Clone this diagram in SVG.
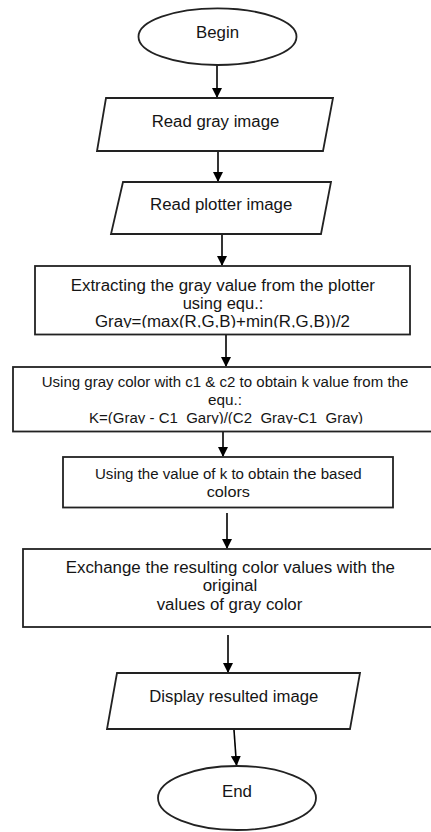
<svg xmlns="http://www.w3.org/2000/svg" width="431" height="832" viewBox="0 0 431 832">
<style>
.sh{fill:#fff;stroke:#222;stroke-width:1.8}
.t{font-family:"Liberation Sans",Arial,sans-serif;fill:#151515;font-size:16px}
.s{font-size:14px}
.c{stroke:#000;stroke-width:1.6;fill:none}
</style>
<defs>
<marker id="ah" markerWidth="10" markerHeight="10" refX="9" refY="5" orient="auto" markerUnits="userSpaceOnUse">
<path d="M0,0 L10,5 L0,10 Z" fill="#000"/>
</marker>
<clipPath id="clip3"><rect x="0" y="260" width="431" height="67.8"/></clipPath>
<clipPath id="clip4"><rect x="0" y="360" width="431" height="63.8"/></clipPath>
</defs>
<rect width="431" height="832" fill="#fff"/>
<g id="connectors">
<line class="c" x1="217" y1="65" x2="217" y2="97" marker-end="url(#ah)"/>
<line class="c" x1="218" y1="151" x2="218" y2="181" marker-end="url(#ah)"/>
<line class="c" x1="222" y1="234" x2="222" y2="265" marker-end="url(#ah)"/>
<line class="c" x1="226" y1="335" x2="226" y2="366" marker-end="url(#ah)"/>
<line class="c" x1="223" y1="432" x2="223" y2="456" marker-end="url(#ah)"/>
<line class="c" x1="227" y1="513" x2="227" y2="548" marker-end="url(#ah)"/>
<line class="c" x1="228" y1="635" x2="228" y2="672" marker-end="url(#ah)"/>
<line class="c" x1="234" y1="730" x2="236.5" y2="765" marker-end="url(#ah)"/>
</g>
<g id="begin">
<ellipse class="sh" cx="217.5" cy="36.7" rx="79" ry="28.3"/>
<text class="t" x="196" y="38" textLength="43" lengthAdjust="spacingAndGlyphs">Begin</text>
</g>
<g id="read-gray">
<polygon class="sh" points="106,98 333,98 323,151 97,151"/>
<text class="t" x="151.7" y="127" textLength="127.6" lengthAdjust="spacingAndGlyphs">Read gray image</text>
</g>
<g id="read-plotter">
<polygon class="sh" points="123,182 331,182 321,234 111,234"/>
<text class="t" x="150" y="210" textLength="142.3" lengthAdjust="spacingAndGlyphs">Read plotter image</text>
</g>
<g id="extract">
<rect class="sh" x="35" y="266" width="375" height="68.5"/>
<text class="t" x="70.7" y="290.5" textLength="304.3" lengthAdjust="spacingAndGlyphs">Extracting the gray value from the plotter</text>
<text class="t" x="182.7" y="308.5" textLength="80.6" lengthAdjust="spacingAndGlyphs">using equ.:</text>
<text class="t" x="95" y="327" textLength="255" lengthAdjust="spacingAndGlyphs" clip-path="url(#clip3)">Gray=(max(R,G,B)+min(R,G,B))/2</text>
</g>
<g id="k-value">
<rect class="sh" x="13" y="367" width="430" height="64.5"/>
<text class="t s" x="41.7" y="387" textLength="366.6" lengthAdjust="spacingAndGlyphs">Using gray color with c1 &amp; c2 to obtain k value from the</text>
<text class="t s" x="208" y="405" textLength="34" lengthAdjust="spacingAndGlyphs">equ.:</text>
<text class="t s" x="89" y="423" textLength="274" lengthAdjust="spacingAndGlyphs" clip-path="url(#clip4)">K=(Gray - C1&#160; Gary)/(C2&#160; Gray-C1&#160; Gray)</text>
</g>
<g id="based-colors">
<rect class="sh" x="63" y="457" width="330" height="50.5"/>
<text class="t s" x="95" y="479" textLength="266.7" lengthAdjust="spacingAndGlyphs">Using the value of k to obtain <tspan font-size="15.5">the</tspan> based</text>
<text class="t s" x="206.7" y="497" textLength="43.3" lengthAdjust="spacingAndGlyphs">colors</text>
</g>
<g id="exchange">
<rect class="sh" x="23" y="549" width="420" height="78"/>
<text class="t" x="65.7" y="573" textLength="329.3" lengthAdjust="spacingAndGlyphs">Exchange the resulting color values with the</text>
<text class="t" x="202.7" y="591" textLength="54.6" lengthAdjust="spacingAndGlyphs">original</text>
<text class="t" x="156.7" y="610" textLength="145.6" lengthAdjust="spacingAndGlyphs">values of gray color</text>
</g>
<g id="display">
<polygon class="sh" points="117,673 360,673 350,729 107,729"/>
<text class="t" x="149.3" y="702" textLength="169" lengthAdjust="spacingAndGlyphs">Display resulted image</text>
</g>
<g id="end">
<ellipse class="sh" cx="237" cy="798" rx="79" ry="32"/>
<text class="t" x="222" y="797" textLength="30" lengthAdjust="spacingAndGlyphs">End</text>
</g>
</svg>
